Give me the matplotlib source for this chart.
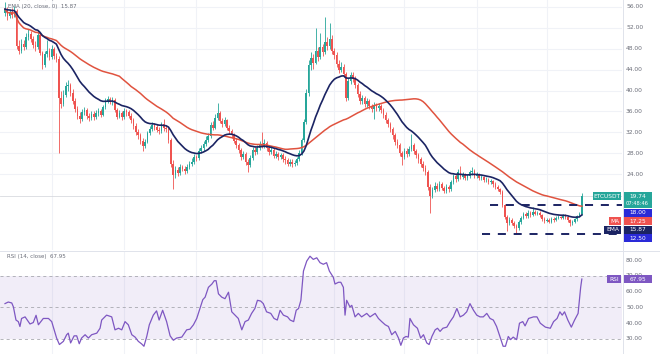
import numpy as np
import pandas as pd
import matplotlib
matplotlib.use("Agg")
import matplotlib.pyplot as plt
from matplotlib.patches import Rectangle

plt.rcParams['lines.scale_dashes'] = False

# ETCUSDT daily candles, 11 Nov 2021 -> 16 Jul 2022
first_open = 54.8
closes = [
    55.6, 54.2, 55.0, 54.4, 55.3, 48.6, 47.6, 48.9, 48.3, 50.2,
    50.9, 49.9, 48.8, 48.4, 50.7, 47.2, 44.8, 47.0, 47.6, 46.5,
    47.9, 46.6, 46.0, 38.5, 37.5, 39.2, 40.8, 41.0, 39.6, 38.0,
    36.4, 35.2, 34.6, 35.8, 36.3, 35.1, 34.8, 35.5, 34.9, 35.6,
    36.0, 35.4, 36.8, 38.0, 38.3, 37.9, 38.2, 36.2, 35.0, 35.6,
    34.9, 36.0, 35.8, 35.2, 34.4, 33.2, 32.0, 31.5, 30.4, 29.4,
    30.2, 31.8, 32.6, 33.4, 33.0, 32.5, 32.2, 33.5, 32.8, 32.6,
    30.6, 26.0, 23.9, 24.8, 24.2, 25.3, 25.0, 24.6, 25.4, 25.9,
    26.4, 27.2, 27.0, 28.4, 28.9, 29.8, 30.6, 31.2, 33.4, 32.9,
    34.8, 35.6, 34.2, 33.6, 34.3, 32.9, 32.2, 31.4, 30.4, 29.5,
    28.6, 27.2, 27.9, 26.3, 25.8, 27.0, 28.6, 28.2, 29.0, 29.8,
    29.4, 30.0, 29.0, 28.2, 28.6, 27.5, 27.9, 27.2, 27.6, 26.9,
    26.6, 26.0, 26.4, 25.9, 26.2, 26.8, 28.0, 30.5, 34.0, 39.5,
    44.8, 46.2, 45.3, 47.6, 46.4, 48.4, 47.3, 49.2, 48.6, 49.8,
    47.6, 46.8, 45.1, 44.0, 44.6, 43.2, 38.6, 41.8, 42.9, 42.3,
    41.0, 39.4, 38.0, 38.6, 37.4, 37.9, 37.0, 36.5, 37.2, 36.6,
    37.1, 36.2, 35.4, 34.3, 33.5, 32.6, 31.4, 30.2, 29.5, 28.0,
    27.2, 28.4, 27.8, 28.8, 29.6, 28.4, 27.6, 26.8, 26.0, 25.2,
    24.4, 21.5, 19.8, 21.0, 21.8, 21.2, 22.0, 21.4, 20.8, 21.5,
    21.1, 22.4, 23.6, 23.0, 24.4, 23.4, 23.8, 23.2, 23.6, 24.3,
    24.6, 23.7, 23.9, 23.2, 23.4, 22.8, 22.9, 22.5, 22.6, 22.0,
    21.5, 21.1, 20.6, 18.0, 15.8, 14.6, 15.2, 14.7, 14.1, 13.6,
    14.8, 15.6, 16.3, 15.9, 16.6, 16.2, 16.8, 16.4, 16.6, 16.1,
    15.4, 15.0, 15.2, 14.9, 15.4, 15.2, 15.6, 15.8, 15.6, 16.1,
    15.7, 15.2, 14.6, 14.9, 15.3, 15.9, 16.4, 19.74,
]
highs = [
    56.9, 56.0, 55.7, 55.9, 56.2, 55.6, 49.6, 49.8, 49.6, 51.0,
    51.8, 51.4, 50.4, 49.5, 51.6, 51.0, 47.6, 47.5, 49.6, 48.2,
    48.7, 48.4, 47.2, 46.6, 40.0, 40.1, 41.6, 42.0, 41.5, 40.2,
    38.5, 37.0, 35.8, 36.4, 36.9, 36.7, 35.6, 36.1, 36.0, 36.2,
    36.6, 36.5, 37.3, 38.6, 38.9, 38.8, 38.7, 38.5, 36.6, 36.2,
    36.0, 36.7, 36.5, 36.2, 35.6, 34.8, 33.7, 32.6, 31.9, 30.9,
    30.8, 32.3, 33.2, 33.9, 33.8, 33.5, 33.0, 34.0, 34.6, 33.3,
    33.0, 31.0, 26.6, 25.6, 25.4, 25.9, 25.8, 25.5, 26.0, 26.5,
    27.0, 27.8, 27.7, 28.9, 29.6, 30.3, 31.2, 31.9, 34.0, 34.1,
    35.5, 37.6, 36.0, 34.7, 34.9, 34.6, 33.4, 32.6, 31.8, 30.9,
    30.0, 29.0, 28.5, 28.2, 26.8, 27.6, 29.2, 29.1, 29.6, 30.4,
    32.0, 30.7, 30.4, 29.5, 29.2, 29.0, 28.5, 28.3, 28.1, 28.0,
    27.4, 27.0, 26.9, 26.8, 26.7, 27.3, 28.6, 31.0, 34.6, 40.3,
    45.8, 47.4, 47.0, 52.0, 48.4, 51.0, 49.0, 54.0, 50.2, 53.0,
    50.6, 48.2, 47.3, 45.8, 45.4, 45.0, 43.6, 42.4, 43.6, 43.5,
    42.8, 41.5, 39.9, 39.2, 39.0, 38.5, 38.4, 37.5, 37.8, 37.7,
    37.7, 37.5, 36.6, 35.8, 34.8, 34.0, 33.0, 31.8, 30.7, 29.9,
    28.5, 29.0, 28.9, 29.4, 31.6, 30.0, 28.8, 28.0, 27.3, 26.5,
    25.8, 24.8, 22.0, 21.6, 22.4, 22.3, 22.6, 22.4, 21.8, 22.0,
    21.9, 22.9, 24.1, 24.0, 24.9, 25.6, 24.3, 24.2, 24.1, 24.8,
    25.3, 24.9, 24.4, 24.2, 23.9, 23.7, 23.4, 23.2, 23.0, 22.9,
    22.4, 21.9, 21.4, 20.9, 18.3, 16.2, 15.7, 15.6, 15.1, 14.4,
    15.2, 16.0, 16.8, 16.7, 17.1, 16.9, 17.6, 17.1, 17.0, 16.9,
    16.4, 15.7, 15.6, 15.5, 15.7, 15.7, 15.9, 16.1, 16.0, 16.4,
    16.4, 15.9, 15.4, 15.2, 15.6, 16.2, 16.8, 20.3,
]
lows = [
    54.3, 53.6, 53.8, 53.9, 54.0, 47.9, 46.9, 47.2, 47.7, 47.9,
    49.6, 49.3, 48.2, 47.6, 48.0, 46.8, 44.2, 44.5, 46.4, 45.9,
    46.1, 46.0, 45.4, 28.0, 36.6, 37.0, 38.7, 40.0, 39.0, 37.5,
    35.9, 34.6, 33.8, 34.2, 35.3, 34.6, 34.1, 34.3, 34.3, 34.5,
    35.1, 34.9, 35.1, 36.5, 37.6, 37.4, 37.3, 35.8, 34.5, 34.7,
    34.4, 34.6, 35.2, 34.7, 33.8, 32.6, 31.4, 30.8, 29.8, 28.4,
    29.0, 29.9, 31.4, 32.2, 32.5, 32.0, 31.6, 31.9, 32.3, 32.0,
    30.0, 25.4, 21.2, 23.3, 23.6, 23.9, 24.5, 24.0, 24.2, 25.0,
    25.5, 26.0, 26.5, 26.7, 28.0, 28.5, 29.4, 30.1, 31.0, 32.4,
    32.6, 34.3, 33.7, 33.0, 33.2, 32.4, 31.7, 30.9, 29.9, 29.0,
    28.1, 26.7, 26.8, 25.8, 24.4, 25.3, 26.6, 27.6, 27.8, 28.6,
    28.9, 29.0, 28.5, 27.7, 27.8, 27.0, 27.1, 26.7, 26.8, 26.4,
    26.0, 25.5, 25.6, 25.3, 25.5, 25.8, 26.5, 27.7, 30.2, 33.6,
    39.0, 43.9, 44.2, 45.0, 45.6, 46.0, 46.6, 46.9, 47.8, 48.0,
    47.0, 46.0, 44.6, 43.4, 43.5, 42.6, 38.0, 38.2, 41.2, 41.6,
    40.4, 38.8, 37.4, 37.5, 36.8, 36.9, 36.4, 35.9, 34.6, 36.0,
    36.1, 35.7, 34.8, 33.7, 33.0, 32.0, 30.8, 29.6, 28.9, 27.4,
    25.8, 26.8, 27.2, 27.4, 28.4, 27.9, 27.0, 26.2, 25.4, 24.6,
    23.8, 21.0, 16.6, 19.4, 20.5, 20.7, 20.8, 20.9, 20.3, 20.4,
    20.6, 20.8, 22.1, 22.5, 22.7, 23.0, 23.0, 22.8, 22.9, 23.3,
    23.9, 23.3, 23.3, 22.8, 22.9, 22.4, 22.4, 22.0, 22.1, 21.6,
    21.1, 20.7, 20.1, 17.6, 15.3, 13.0, 14.2, 14.2, 13.6, 12.5,
    13.3, 14.5, 15.3, 15.5, 15.6, 15.8, 16.0, 16.1, 16.1, 15.8,
    15.1, 14.7, 14.8, 14.6, 14.6, 14.9, 15.0, 15.3, 15.3, 15.4,
    15.4, 14.9, 14.1, 14.3, 14.7, 15.1, 15.7, 16.2,
]

# RSI(14) line: day index, value
rsi_day = [
    0, 1.4, 2.9, 3.6, 4.7, 5.7, 6.4, 7.1, 8.6, 10, 10.7, 12.1, 13.3, 14.3,
    16.4, 18.6, 20, 22.1, 23.3, 25, 26.4, 27.1, 28.1, 29.6, 30.7, 31.8,
    32.8, 34.3, 35.7, 37.1, 39.3, 40.7, 41.4, 43.5, 45.7, 47.1, 48.6, 50,
    51.4, 52.8, 54.3, 55.7, 57.1, 58.5, 59.5, 60.7, 61.8, 63.5, 64.9, 66,
    67.5, 69.2, 70.7, 72.1, 73.5, 75.7, 77.8, 79.2, 80.7, 82.1, 83.5, 84.7,
    85.7, 87.1, 88.6, 89.6, 90.4, 91.4, 92.8, 94.2, 95.7, 97.1, 98.5, 99.9,
    101.4, 102.8, 104.2, 105.6, 107, 108.1, 109.5, 110.6, 112, 113.8,
    115.2, 116.6, 117.8, 119.2, 121, 122.1, 123.6, 124.7, 125.7, 126.7,
    127.8, 129.2, 130.6, 132, 133.5, 134.9, 136.3, 137.7, 138.9, 140.6,
    141.3, 142.8, 143.8, 144.9, 145.6, 146.3, 147.7, 148.5, 149.9, 151.3,
    152.7, 154.9, 156.3, 158.5, 159.9, 161.3, 162.8, 164.2, 165.6, 167.1,
    168.5, 169.5, 170.6, 171.7, 172.7, 173.4, 174.9, 176.6, 178, 179.2,
    180.6, 181.6, 182.8, 184.2, 185.2, 186.3, 187.5, 189.2, 190.6, 192,
    193.5, 194.9, 196.3, 197.7, 199.1, 200.6, 202, 203.4, 204.8, 206.3,
    207.7, 209.1, 210.5, 211.9, 213.3, 214.3, 215.5, 216.5, 217.6, 219.1,
    220.3, 221.7, 222.7, 224.2, 226.3, 227.8, 229.2, 231.4, 233.5, 234.9,
    236.4, 237.6, 238.6, 239.6, 241, 242.5, 243.9, 245.4, 246.5, 247,
]
rsi_val = [
    52.4, 53.4, 52.8, 50.3, 42, 41, 37.9, 43, 44, 41, 39.5, 40.4, 45, 39,
    43, 43, 41, 30.6, 26.5, 28.5, 32.7, 33.7, 27.5, 32, 32, 27,
    30.6, 32.7, 30.6, 32.7, 33.7, 36.8, 42, 45.1, 44, 35.8, 36.8, 35.8,
    41, 39, 32.7, 31.2, 28.5, 26.9, 25.4, 31.6, 39, 45.1, 47.8, 42,
    48.2, 41, 32, 29.2, 30.6, 31.2, 35.8, 36.2, 39, 43, 49.3, 54.9,
    56.5, 62.7, 64.8, 66.9, 66.9, 58.6, 56.5, 55.5, 59.6, 47.2, 45.1, 43,
    35.8, 41, 42, 46.2, 49.3, 54.5, 54, 52.4, 47.2, 46.2,
    43, 42, 48.2, 45.1, 44, 42, 41, 48.2, 49.3, 54.5,
    73, 79.3, 82.4, 80.4, 81.4, 78.3, 77.3, 78.3, 73, 69,
    64.8, 65.9, 65.9, 62.7, 45.1, 54.5, 50.3, 51.3, 44, 46.2,
    44, 46.2, 44, 46.2, 43, 41, 39, 37.9, 32.7, 34.8,
    30.6, 26, 30.6, 31.6, 31.2, 43, 39, 36.8, 30.6, 32.7,
    27.5, 26.5, 31.6, 35.8, 36.8, 34.8, 36.8, 37.5, 41, 44,
    49.3, 44, 45.1, 47.2, 52.4, 48.2, 45.1, 44, 44, 46.2,
    43, 42, 37.9, 31.6, 25.4, 25.4, 31.6, 29.6, 31.2, 29.6,
    40, 41, 38.3, 43, 44, 44, 40, 37.5, 36.8, 41,
    43, 47.2, 45.1, 47.2, 42, 37.5, 42, 46.2, 62.7, 67.95,
]

month_starts = [20, 51, 82, 110, 141, 171, 202, 232]
price_ticks = [24, 28, 32, 36, 40, 44, 48, 52, 56]
rsi_ticks = [30, 40, 50, 60, 70, 80]
resistance, support = 18.00, 12.50

closes = np.array(closes)
highs = np.array(highs)
lows = np.array(lows)
opens = np.concatenate([[first_open], closes[:-1]])
days = np.arange(len(closes))

s = pd.Series(closes)
ma50 = s.rolling(50, min_periods=1).mean()
ema20 = s.ewm(span=20, adjust=False).mean()

GREEN, RED = '#26a69a', '#ef5350'
NAVY, BLUE, PURPLE = '#1b2463', '#2a2ad8', '#7e57c2'
GRID, TXT = '#f0f2f7', '#6a6d78'

W, H = 660, 354
fig = plt.figure(figsize=(W / 100, H / 100), dpi=100)
XMIN, XMAX = -2.14, 264.2

# ---- price pane
ax = fig.add_axes([0, 1 - 250 / H, 622 / W, 250 / H])
ax.set_xlim(XMIN, XMAX)
ax.set_ylim(9.45, 57.34)
for sp in ax.spines.values():
    sp.set_visible(False)
ax.set_xticks([])
ax.set_yticks([])
for d in month_starts:
    ax.axvline(d, color=GRID, lw=0.8, zorder=0)
for p in price_ticks:
    ax.axhline(p, color=GRID, lw=0.8, zorder=0)
    ax.text(1.0065, p, f'{p:.2f}', transform=ax.get_yaxis_transform(),
            fontsize=4.3, color=TXT, va='center', ha='left', clip_on=False)

ax.axhline(closes[-1], color='#d8dadf', lw=0.6, zorder=1)

cols = np.where(closes >= opens, GREEN, RED)
ax.vlines(days, lows, highs, colors=cols, lw=0.6, zorder=2)
ax.bar(days, np.maximum(np.abs(closes - opens), 0.1), bottom=np.minimum(opens, closes),
       width=0.7, color=cols, lw=0, zorder=3)

ax.plot(days, ma50, color='#e0533f', lw=1.1, zorder=4)
ax.plot(days, ema20, color=NAVY, lw=1.2, zorder=5)

ax.hlines(resistance, 207.7, XMAX, colors=NAVY, lw=1.4, linestyles=(0, (5.8, 5.6)), zorder=6)
ax.hlines(support, 204.3, XMAX, colors=NAVY, lw=1.4, linestyles=(0, (5.8, 5.6)), zorder=6)

# ---- RSI pane
ar = fig.add_axes([0, 0, 622 / W, 103 / H])
ar.set_xlim(XMIN, XMAX)
ar.set_ylim(20.5, 85.7)
for sp in ar.spines.values():
    sp.set_visible(False)
ar.set_xticks([])
ar.set_yticks([])
for d in month_starts:
    ar.axvline(d, color=GRID, lw=0.8, zorder=0)
ar.axhspan(30, 70, color=PURPLE, alpha=0.1, lw=0, zorder=0)
for lv in (70, 50, 30):
    ar.axhline(lv, color='#a8a8b0', lw=0.6, ls=(0, (2.2, 2.2)), zorder=1)
ar.plot(rsi_day, rsi_val, color=PURPLE, lw=0.9, zorder=3)
for t in rsi_ticks:
    ar.text(1.0065, t, f'{t:.2f}', transform=ar.get_yaxis_transform(),
            fontsize=4.3, color=TXT, va='center', ha='left', clip_on=False)

# ---- overlay in pixel units for legends, separators and price tags
ov = fig.add_axes([0, 0, 1, 1], facecolor='none')
ov.set_xlim(0, W)
ov.set_ylim(H, 0)
ov.axis('off')
ov.plot([622.5, 622.5], [0, H], color='#e0e3eb', lw=0.7)
ov.plot([0, W], [250.5, 250.5], color='#e0e3eb', lw=0.7)

ov.text(8, -1.8, 'MA (50, close, 0)  17.25', fontsize=4, color=TXT, va='center')
ov.text(8, 6.3, 'EMA (20, close, 0)  15.87', fontsize=4, color=TXT, va='center')
ov.text(7, 256.3, 'RSI (14, close)  67.95', fontsize=4, color=TXT, va='center')


def tag(x0, y0, w, h, color, label, fs=4.2):
    ov.add_patch(Rectangle((x0, y0), w, h, color=color, lw=0))
    ov.text(x0 + w / 2, y0 + h / 2 + 0.3, label, color='white', fontsize=fs,
            ha='center', va='center')


tag(593, 192, 28, 8, GREEN, 'ETCUSDT')
ov.add_patch(Rectangle((623, 192), 29, 16, color=GREEN, lw=0))
ov.text(637.5, 196.3, '19.74', color='white', fontsize=4.2, ha='center', va='center')
ov.text(637.5, 203.6, '07:48:46', color='white', fontsize=3.7, ha='center', va='center')
tag(623, 208.5, 29, 8, BLUE, '18.00')
tag(609, 217, 12, 8, RED, 'MA')
tag(623, 217, 29, 8, RED, '17.25')
tag(604, 225.5, 17, 8, NAVY, 'EMA')
tag(623, 225.5, 29, 8, NAVY, '15.87')
tag(623, 234, 29, 8, BLUE, '12.50')
tag(607, 275, 14, 8, PURPLE, 'RSI')
tag(623, 275, 29, 8, PURPLE, '67.95')

fig.savefig('out.png', dpi=100, facecolor='white')
